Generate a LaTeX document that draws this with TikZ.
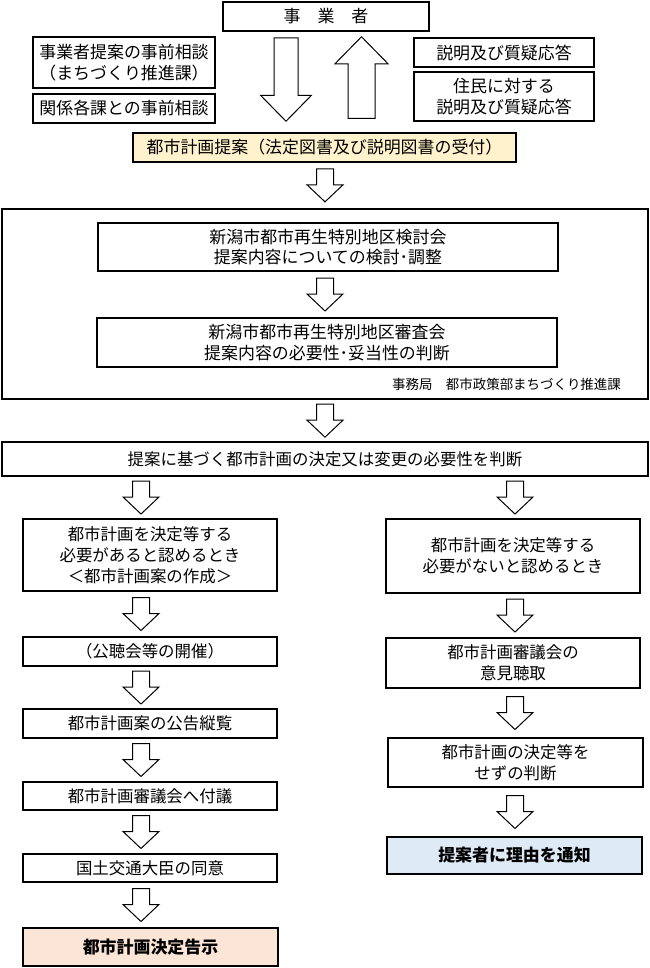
\documentclass[tikz,border=0pt]{standalone}
\usepackage{fontspec}
\setmainfont{Noto Sans CJK JP}
\usetikzlibrary{calc}
\definecolor{yel}{HTML}{FFF2CC}
\definecolor{peach}{HTML}{FBE5D6}
\definecolor{lblue}{HTML}{DEEBF7}
\tikzset{
  box/.style={draw=black, line width=1.5bp, fill=white, inner sep=0pt, align=center,
    font=\fontsize{16.5}{21}\selectfont},
  topfont/.style={font=\fontsize{17}{20.5}\selectfont},
  blk/.style={draw=black, line width=1bp, fill=white, line join=miter},
}
% box: [opts]{name}{x1}{y1}{x2}{y2}{text}
\newcommand\bx[7][]{\node[box,#1,minimum width={(#5-#3)*1bp},minimum height={(#6-#4)*1bp}] (#2) at ({(#3+#5)/2},{(#4+#6)/2}) {#7};}
% small hollow down arrow between two nodes, centred in the gap, at x = #3
\newcommand\sarr[3]{\draw[blk] let \p1=(#1.south), \p2=(#2.north), \n1={(\y1+\y2)/2} in
  ({#3*1bp-8.5bp},{\n1*1pt+16.5bp}) -- ({#3*1bp+8.5bp},{\n1*1pt+16.5bp}) --
  ({#3*1bp+8.5bp},{\n1*1pt+0.5bp}) -- ({#3*1bp+18bp},{\n1*1pt+0.5bp}) --
  ({#3*1bp},{\n1*1pt-16.5bp}) -- ({#3*1bp-18bp},{\n1*1pt+0.5bp}) --
  ({#3*1bp-8.5bp},{\n1*1pt+0.5bp}) -- cycle;}
\begin{document}
\begin{tikzpicture}[x=1bp,y=-1bp]
\useasboundingbox[fill=white] (0,0) rectangle (650,968);

% top section
\bx[topfont]{jig}{223}{2}{429}{31}{事　業　者}
\bx[topfont]{pre1}{33}{37}{215}{88}{事業者提案の事前相談\\（まちづくり推進課）}
\bx[topfont]{pre2}{33}{94}{215}{123}{関係各課との事前相談}
\bx[topfont]{exp1}{414}{38}{594}{67}{説明及び質疑応答}
\bx[topfont]{exp2}{414}{72}{594}{121}{住民に対する\\説明及び質疑応答}
\bx[topfont,fill=yel]{teian}{133}{133}{516}{162}{都市計画提案（法定図書及び説明図書の受付）}

% big down arrow (jig -> teian)
\draw[blk] let \p1=(jig.south), \p2=(teian.north) in
  ({274bp},{\y1-6bp}) -- ({298bp},{\y1-6bp}) -- ({298bp},{\y2+37bp}) -- ({311.5bp},{\y2+37bp}) --
  ({286bp},{\y2+11bp}) -- ({260.5bp},{\y2+37bp}) -- ({274bp},{\y2+37bp}) -- cycle;
% big up arrow (teian -> jig)
\draw[blk] let \p1=(teian.north), \p2=(jig.south) in
  ({348bp},{\y1+14bp}) -- ({375bp},{\y1+14bp}) -- ({375bp},{\y2-32bp}) -- ({388bp},{\y2-32bp}) --
  ({361.5bp},{\y2-5bp}) -- ({335bp},{\y2-32bp}) -- ({348bp},{\y2-32bp}) -- cycle;

% committee section
\bx[line width=2.2bp]{outer}{2}{209}{648}{399}{}
\bx[topfont]{kentou}{98}{223}{558}{271}{新潟市都市再生特別地区検討会\\提案内容についての検討･調整}
\bx[topfont]{shinsa}{97}{318}{557}{367}{新潟市都市再生特別地区審査会\\提案内容の必要性･妥当性の判断}
\node[anchor=east, inner sep=0pt, font=\fontsize{13.5}{16}\selectfont] (jimu) at (621,384) {事務局　都市政策部まちづくり推進課};

\bx{handan}{2}{442}{648}{476}{提案に基づく都市計画の決定又は変更の必要性を判断}

% left column
\bx{L1}{23}{519}{277}{591}{都市計画を決定等する\\必要があると認めるとき\\＜都市計画案の作成＞}
\bx{L2}{23}{637}{277}{666}{（公聴会等の開催）}
\bx{L3}{23}{709}{277}{738}{都市計画案の公告縦覧}
\bx{L4}{23}{782}{277}{810}{都市計画審議会へ付議}
\bx{L5}{23}{854}{277}{882}{国土交通大臣の同意}
\bx[fill=peach,font=\fontsize{17}{21}\selectfont\bfseries]{L6}{23}{928}{278}{966}{都市計画決定告示}

% right column
\bx{R1}{386}{519}{640}{593}{都市計画を決定等する\\必要がないと認めるとき}
\bx{R2}{386}{638}{640}{688}{都市計画審議会の\\意見聴取}
\bx{R3}{388}{738}{643}{787}{都市計画の決定等を\\せずの判断}
\bx[fill=lblue,font=\fontsize{17}{21}\selectfont\bfseries]{R4}{387}{837}{642}{874}{提案者に理由を通知}

% arrows
\sarr{teian}{outer}{325}
\sarr{kentou}{shinsa}{325}
\sarr{outer}{handan}{325}
\sarr{handan}{L1}{141}
\sarr{handan}{R1}{515}
\sarr{L1}{L2}{141}
\sarr{L2}{L3}{141}
\sarr{L3}{L4}{141}
\sarr{L4}{L5}{141}
\sarr{L5}{L6}{141}
\sarr{R1}{R2}{515}
\sarr{R2}{R3}{515}
\sarr{R3}{R4}{515}
\end{tikzpicture}
\end{document}
